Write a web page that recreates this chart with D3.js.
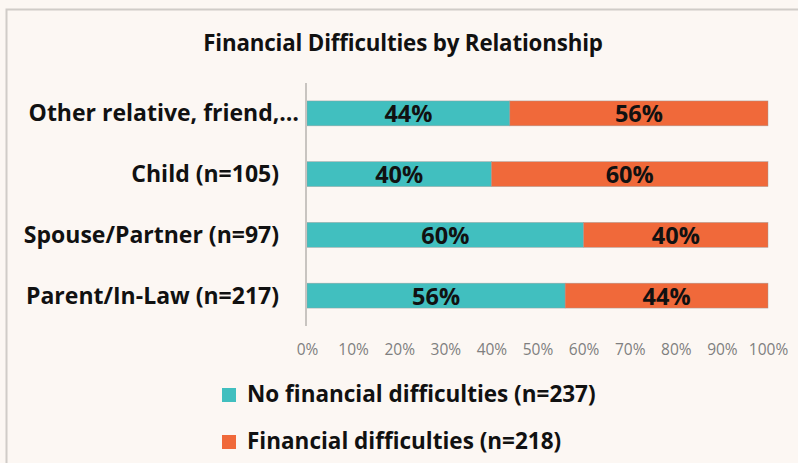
<!DOCTYPE html>
<html><head><meta charset="utf-8">
<script src="https://cdn.jsdelivr.net/npm/d3@7"></script>
<style>
html,body{margin:0;padding:0;background:#fcf7f3;}
svg{display:block;}
text{font-family:"Open Sans",sans-serif;}
</style></head>
<body>
<svg id="c" width="798" height="463"></svg>
<script>
const categories = ["Other relative, friend,…","Child (n=105)","Spouse/Partner (n=97)","Parent/In-Law (n=217)"];
const noDifficulties = [44, 40, 60, 56];
const difficulties = [56, 60, 40, 44];
const seriesNames = ["No financial difficulties (n=237)","Financial difficulties (n=218)"];
const tickValues = [0,10,20,30,40,50,60,70,80,90,100];
const colors = ["#41bfbf","#f0693a"];

const svg = d3.select("#c");
svg.append("rect").attr("width",798).attr("height",463).attr("fill","#fcf7f3");
svg.append("path").attr("d","M6.5,463 V9.5 H798").attr("fill","none").attr("stroke","#d0ccc8").attr("stroke-width",2);

svg.append("text").attr("x",403).attr("y",51).attr("text-anchor","middle")
  .attr("font-size",22.3).attr("font-weight","bold").attr("fill","#111")
  .attr("letter-spacing",-0.15)
  .text("Financial Difficulties by Relationship");

const x = d3.scaleLinear().domain([0,100]).range([307,768]);
const y = d3.scaleBand().domain(categories).range([83,326]).paddingInner(0.59).paddingOuter(0.295);

const rows = categories.map((c,i)=>({cat:c, vals:[noDifficulties[i], difficulties[i]]}));
const stack = d3.stack().keys([0,1]).value((d,k)=>d.vals[k])(rows);

const g = svg.append("g");
stack.forEach((layer,k)=>{
  g.selectAll(null).data(layer).enter().append("rect")
    .attr("x",d=>x(d[0])).attr("width",d=>x(d[1])-x(d[0]))
    .attr("y",d=>y(d.data.cat)).attr("height",y.bandwidth())
    .attr("fill",colors[k]).attr("stroke","#9a9a9a").attr("stroke-width",0.6).attr("stroke-opacity",0.7);
  g.selectAll(null).data(layer).enter().append("text")
    .attr("x",d=>(x(d[0])+x(d[1]))/2).attr("y",d=>y(d.data.cat)+y.bandwidth()/2+9)
    .attr("text-anchor","middle").attr("font-size",23.5).attr("font-weight","bold").attr("fill","#111")
    .text(d=>(d[1]-d[0])+"%");
});

svg.append("line").attr("x1",306).attr("x2",306).attr("y1",83).attr("y2",326)
  .attr("stroke","#c8c4c0").attr("stroke-width",2);

svg.selectAll(null).data(categories).enter().append("text")
  .attr("x",d=>d.endsWith("…")?299:279).attr("y",d=>y(d)+y.bandwidth()/2+8)
  .attr("text-anchor","end").attr("font-size",23).attr("font-weight","bold").attr("fill","#111")
  .text(d=>d);

const xAxis = d3.axisBottom(x).tickValues(tickValues).tickFormat(d=>d+"%").tickSize(0).tickPadding(0);
const ax = svg.append("g").attr("transform","translate(0,344)").call(xAxis);
ax.select(".domain").remove();
ax.selectAll("text").attr("font-size",15.5).attr("fill","#7f7f7f").attr("font-family","'Open Sans',sans-serif");

const leg = svg.selectAll(null).data(seriesNames).enter().append("g")
  .attr("transform",(d,i)=>`translate(222,${388+i*47})`);
leg.append("rect").attr("width",14).attr("height",14).attr("fill",(d,i)=>colors[i]);
leg.append("text").attr("x",25).attr("y",13.5).attr("font-size",22.5).attr("font-weight","bold").attr("fill","#111").text(d=>d);
</script>
</body></html>
